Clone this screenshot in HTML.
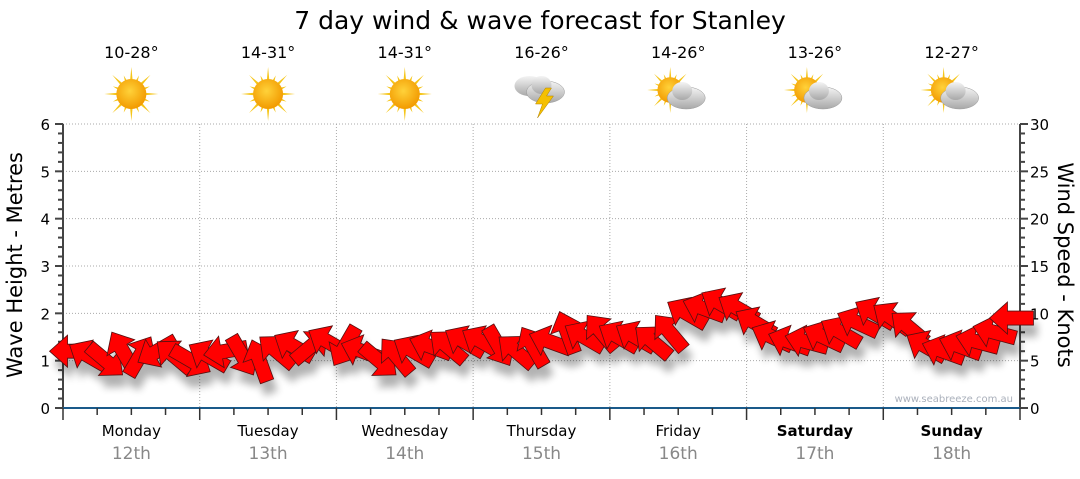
<!DOCTYPE html>
<html><head><meta charset="utf-8"><style>
body{margin:0;background:#fff;font-family:"DejaVu Sans","Liberation Sans",sans-serif}
svg text{font-family:"DejaVu Sans","Liberation Sans",sans-serif}
</style></head><body>
<svg id="c" width="1080" height="475" xmlns="http://www.w3.org/2000/svg">
<defs>
<radialGradient id="sunG" cx="45%" cy="40%" r="60%"><stop offset="0" stop-color="#ffd23a"/><stop offset="1" stop-color="#f29a00"/></radialGradient>
<linearGradient id="cloudG" x1="0" y1="0" x2="0" y2="1"><stop offset="0" stop-color="#f4f4f4"/><stop offset="1" stop-color="#a8a8a8"/></linearGradient>
<filter id="sh" x="-50%" y="-50%" width="200%" height="200%"><feGaussianBlur stdDeviation="4"/></filter>
</defs>
<text x="540" y="29" font-size="25" text-anchor="middle" fill="#000">7 day wind &amp; wave forecast for Stanley</text>
<g id="grid"></g><g id="icons"></g><g id="axes"></g>
<g id="shadows" filter="url(#sh)" opacity="0.3"></g>
<g id="arrows"></g>
<text x="1013" y="402" font-size="10" fill="#aab0bb" text-anchor="end">www.seabreeze.com.au</text>
<text transform="translate(22,265) rotate(-90)" font-size="21" text-anchor="middle">Wave Height - Metres</text>
<text transform="translate(1058,265) rotate(90)" font-size="21" text-anchor="middle">Wind Speed - Knots</text>
</svg>
<script>
const days=["Monday","Tuesday","Wednesday","Thursday","Friday","Saturday","Sunday"];
const dates=["12th","13th","14th","15th","16th","17th","18th"];
const temps=["10-28°","14-31°","14-31°","16-26°","14-26°","13-26°","12-27°"];
const weather=["sun","sun","sun","storm","partly","partly","partly"];
const waveTicks=[0,1,2,3,4,5,6];
const windTicks=[0,5,10,15,20,25,30];
const windSpeed=[6,5.5,5,6,5.5,6,5.5,5, 5.5,6,5.5,5,6,6.5,6.5,7, 6.5,6,5,5.5,6,6.5,6.5,7, 7,6.5,6,6.5,7,8,7.5,8, 7.5,7.5,7,8,10,10.5,11,10.5, 9,7.5,7,7,7.5,8,9,10, 9.5,8.5,6.5,6,6.5,7,8,9.5];
const windDir=[180,-150,40,-120,-60,150,-140,30, -150,170,60,-110,-140,-150,-40,-150, 120,-160,40,-130,-150,-160,-140,-150, -150,60,-140,-120,-160,-110,-150,-130, -150,-150,-140,-130,-150,-160,-150,-150, -150,-155,-160,-165,-155,-150,-155,-150, -145,-140,-150,-160,-160,-165,-165,180];
const X0=63,X1=1020,Y0=408,Y1=124;
const ns="http://www.w3.org/2000/svg";
const xDay=d=>X0+(X1-X0)*d/7;
const yWave=v=>Y0-(Y0-Y1)*v/6;
const yWind=v=>Y0-(Y0-Y1)*v/30;
function mk(t,a,p){const e=document.createElementNS(ns,t);for(const k in a)e.setAttribute(k,a[k]);(p||document.getElementById('c')).appendChild(e);return e;}
const grid=document.getElementById('grid'),axes=document.getElementById('axes'),icons=document.getElementById('icons');
waveTicks.forEach(v=>{if(v>0){const l=mk('line',{x1:X0,x2:X1,y1:yWave(v),y2:yWave(v),stroke:'#aaa','stroke-dasharray':'1,2'},grid);}
 const t=mk('text',{x:50,y:yWave(v)+6,'font-size':15,'text-anchor':'end'},axes);t.textContent=v;});
windTicks.forEach(v=>{const t=mk('text',{x:1030,y:yWind(v)+6,'font-size':15},axes);t.textContent=v;});
for(let i=0;i<=30;i++){const y=yWind(i);const w=i%5==0?8:5;mk('line',{x1:X0-w,x2:X0,y1:yWave(i/5),y2:yWave(i/5),stroke:'#444','stroke-width':2},axes);mk('line',{x1:X1,x2:X1+w,y1:y,y2:y,stroke:'#444','stroke-width':2},axes);}
mk('line',{x1:X0,x2:X0,y1:Y1,y2:Y0,stroke:'#444','stroke-width':2},axes);
mk('line',{x1:X1,x2:X1,y1:Y1,y2:Y0,stroke:'#444','stroke-width':2},axes);
mk('line',{x1:X0,x2:X1,y1:Y0,y2:Y0,stroke:'#1a5a8a','stroke-width':2},axes);
for(let q=0;q<=28;q++){const x=X0+(X1-X0)*q/28;mk('line',{x1:x,x2:x,y1:Y0,y2:Y0+(q%4==0?12:7),stroke:'#333','stroke-width':1.5},axes);}
days.forEach((d,i)=>{const xc=xDay(i+0.5);
 if(i>0){const l=mk('line',{x1:xDay(i),x2:xDay(i),y1:Y1,y2:Y0,stroke:'#aaa','stroke-dasharray':'1,2'},grid);}
 const t=mk('text',{x:xc,y:436,'font-size':15,'text-anchor':'middle','font-weight':i>=5?'bold':'normal'},axes);t.textContent=d;
 const t2=mk('text',{x:xc,y:459,'font-size':17,'text-anchor':'middle',fill:'#888'},axes);t2.textContent=dates[i];
 const t3=mk('text',{x:xc,y:58,'font-size':16,'text-anchor':'middle'},icons);t3.textContent=temps[i];
 const g=mk('g',{transform:`translate(${xc},94)`},icons);
 const w=weather[i];
 if(w!="storm"){const s=w=="sun"?1:0.85,ox=w=="sun"?0:-8,oy=w=="sun"?0:-4;
  const sg=mk('g',{transform:`translate(${ox},${oy}) scale(${s})`},g);
  for(let k=0;k<16;k++){const a=k*Math.PI/8,L=k%2?20:27;const p=[[Math.cos(a)*L,Math.sin(a)*L],[Math.cos(a+0.12)*12,Math.sin(a+0.12)*12],[Math.cos(a-0.12)*12,Math.sin(a-0.12)*12]];mk('polygon',{points:p.map(q=>q.join(',')).join(' '),fill:'#f5c518'},sg);}
  mk('circle',{r:15,fill:'url(#sunG)'},sg);}
 if(w!="sun"){const cx=w=="storm"?4:8,cy=w=="storm"?-2:4;
  const cg=mk('g',{},g);
  if(w=="storm"){mk('ellipse',{cx:-12,cy:-8,rx:15,ry:10,fill:'url(#cloudG)'},cg);}
  mk('ellipse',{cx:cx,cy:cy,rx:19,ry:11,fill:'url(#cloudG)',stroke:'#999','stroke-width':0.5},cg);
  mk('ellipse',{cx:cx-4,cy:cy-7,rx:10,ry:9,fill:'url(#cloudG)'},cg);
  if(w=="storm")mk('polygon',{points:'4,-6 -6,10 1,10 -4,24 12,2 5,2 10,-6',fill:'#f5c000',stroke:'#b08000','stroke-width':0.5},cg);}
});
const pts="-22,-7 4,-7 4,-16 22,0 4,16 4,7 -22,7";
const ag=document.getElementById('arrows'),sg=document.getElementById('shadows');
windSpeed.forEach((v,i)=>{const x=X0+(X1-X0)*(i+0.5)/windSpeed.length,y=yWind(v),a=windDir[i];
 mk('polygon',{points:pts,fill:'#000',transform:`translate(${x+4},${y+12}) rotate(${a})`},sg);
 const p=mk('polygon',{points:pts,fill:'#ff0000',stroke:'#551010','stroke-width':0.8,transform:`translate(${x},${y}) rotate(${a})`},ag);
 
 });
</script>
</body></html>
